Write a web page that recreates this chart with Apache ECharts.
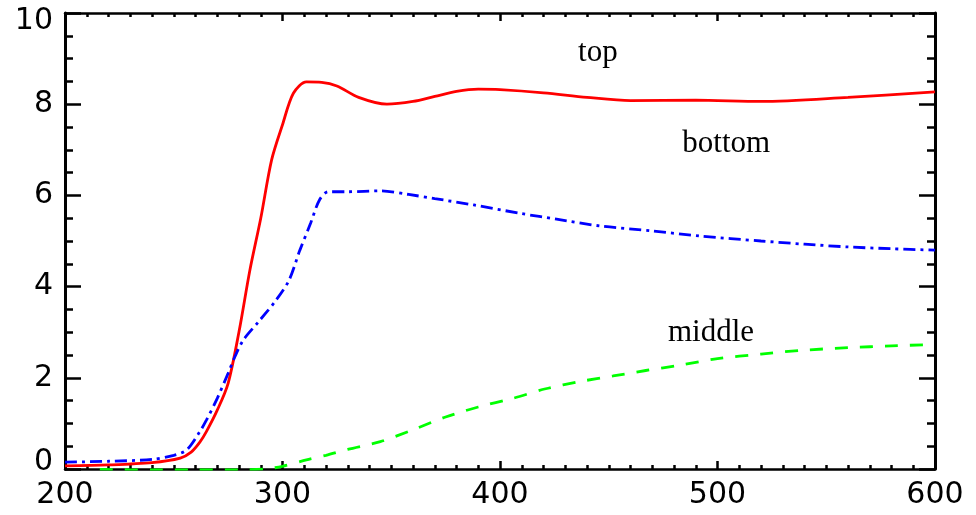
<!DOCTYPE html>
<html>
<head>
<meta charset="utf-8">
<script src="https://cdn.jsdelivr.net/npm/echarts@6/dist/echarts.min.js"></script>
<style>
  html, body { margin: 0; padding: 0; background: #ffffff; }
  #chart { width: 976px; height: 515px; }
</style>
</head>
<body>
<div id="chart"></div>
<script>
// "top" curve (solid red)
const topX = [200, 220, 240, 253, 258, 262, 265, 270, 275, 280, 285, 290, 295, 300, 305, 311, 318, 325, 335, 348, 360, 370, 380, 390, 400, 420, 440, 460, 490, 520, 560, 600];
const topY = [0.07, 0.09, 0.14, 0.24, 0.37, 0.59, 0.82, 1.29, 1.88, 3.01, 4.36, 5.5, 6.78, 7.55, 8.24, 8.49, 8.48, 8.4, 8.15, 8.0, 8.06, 8.17, 8.28, 8.33, 8.32, 8.25, 8.15, 8.08, 8.09, 8.06, 8.15, 8.27];

// "bottom" curve (blue dash-dot)
const bottomX = [200, 220, 240, 250, 256, 262, 265, 270, 275, 278, 282, 289, 297, 303, 308, 313, 317, 321, 330, 345, 358, 370, 388, 410, 426, 446, 470, 492, 520, 540, 560, 580, 600];
const bottomY = [0.15, 0.17, 0.21, 0.3, 0.42, 0.82, 1.07, 1.55, 2.1, 2.45, 2.83, 3.23, 3.7, 4.14, 4.8, 5.4, 5.9, 6.08, 6.08, 6.1, 6.02, 5.93, 5.79, 5.6, 5.48, 5.33, 5.22, 5.11, 5.0, 4.93, 4.87, 4.83, 4.8];

// "middle" curve (green dashed)
const middleX = [216, 240, 260, 280, 292, 300, 311, 320, 330, 345, 360, 375, 390, 406, 421, 437, 452, 467, 483, 500, 520, 538, 560, 580, 600];
const middleY = [-0.01, -0.02, -0.02, -0.02, 0.0, 0.06, 0.2, 0.3, 0.43, 0.6, 0.86, 1.14, 1.36, 1.55, 1.76, 1.92, 2.04, 2.16, 2.28, 2.42, 2.52, 2.6, 2.66, 2.7, 2.73];

// Curve names and where they are written inside the plot
const labelText = ['top', 'bottom', 'middle'];
const labelX = [445, 504, 497];
const labelY = [9.13, 7.12, 2.99];

// Axis ranges and tick steps
const xMin = 200, xMax = 600, xStep = 100;
const yMin = 0, yMax = 10, yStep = 2;

const zip = (xs, ys) => xs.map((x, i) => [x, ys[i]]);

const tickFont = { fontFamily: 'DejaVu Sans', fontSize: 30, color: '#000' };

function xAxisDef(pos, showLabels) {
  return {
    type: 'value', position: pos, min: xMin, max: xMax, interval: xStep,
    axisLine: { show: true, onZero: false, lineStyle: { color: '#000', width: 2.5 } },
    axisTick: { show: true, inside: true, length: 8, lineStyle: { color: '#000', width: 2.5 } },
    minorTick: { show: true, splitNumber: 10, length: 4, lineStyle: { color: '#000', width: 2.5 } },
    axisLabel: Object.assign({ show: showLabels, margin: 11 }, tickFont),
    splitLine: { show: false }, minorSplitLine: { show: false }
  };
}

function yAxisDef(pos, showLabels) {
  return {
    type: 'value', position: pos, min: yMin, max: yMax, interval: yStep,
    axisLine: { show: true, onZero: false, lineStyle: { color: '#000', width: 3 } },
    axisTick: { show: true, inside: true, length: 16, lineStyle: { color: '#000', width: 2.5 } },
    minorTick: { show: true, splitNumber: 4, length: 8, lineStyle: { color: '#000', width: 2.5 } },
    axisLabel: Object.assign({
      show: showLabels, margin: 12,
      formatter: v => v === yMin ? '{lo|' + v + '}' : v === yMax ? '{hi|' + v + '}' : String(v),
      rich: {
        lo: Object.assign({ padding: [0, 0, 14, 0] }, tickFont),
        hi: Object.assign({ padding: [16, 0, 0, 0] }, tickFont)
      }
    }, tickFont),
    splitLine: { show: false }, minorSplitLine: { show: false }
  };
}

const chart = echarts.init(document.getElementById('chart'), null, { renderer: 'canvas' });

chart.setOption({
  animation: false,
  backgroundColor: '#ffffff',
  grid: { left: 65, right: 41, top: 13, bottom: 46, containLabel: false },
  xAxis: [xAxisDef('bottom', true), xAxisDef('top', false)],
  yAxis: [yAxisDef('left', true), yAxisDef('right', false)],
  series: [
    {
      name: 'top', type: 'line', data: zip(topX, topY),
      smooth: 0.3, showSymbol: false, clip: true,
      lineStyle: { color: '#ff0000', width: 2.8, type: 'solid' }
    },
    {
      name: 'bottom', type: 'line', data: zip(bottomX, bottomY),
      smooth: 0.3, showSymbol: false, clip: true,
      lineStyle: { color: '#0000ff', width: 2.8, type: [12, 5, 3, 5] }
    },
    {
      name: 'middle', type: 'line', data: zip(middleX, middleY),
      smooth: 0.3, showSymbol: false, clip: true,
      lineStyle: { color: '#00ff00', width: 2.8, type: [13, 12] }
    },
    {
      name: 'labels', type: 'scatter', symbolSize: 0, silent: true,
      itemStyle: { opacity: 1 },
      data: labelText.map((t, i) => ({ name: t, value: [labelX[i], labelY[i]] })),
      label: {
        show: true, position: 'inside', formatter: p => p.name,
        fontFamily: 'Liberation Serif', fontSize: 31, color: '#000',
        textBorderWidth: 0, align: 'center', verticalAlign: 'middle'
      }
    }
  ]
});
</script>
</body>
</html>
